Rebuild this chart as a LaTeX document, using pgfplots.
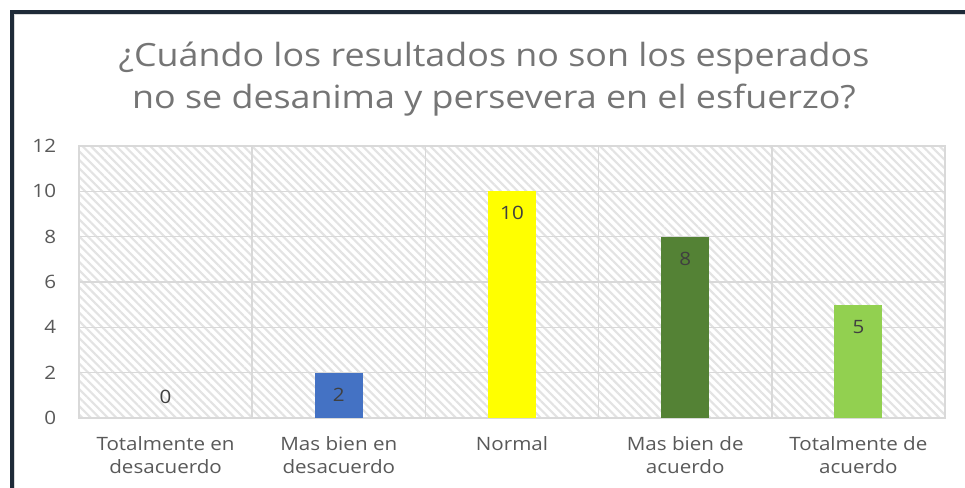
\documentclass[border=0pt]{standalone}
\usepackage{pgfplots}
\pgfplotsset{compat=1.18}
\usepackage{fontspec}
\setmainfont{Open Sans}[FakeStretch=1.12]
\usetikzlibrary{patterns.meta}
\definecolor{gridc}{HTML}{D9D9D9}
\definecolor{hatchc}{HTML}{E3E3E3}
\definecolor{txtc}{HTML}{595959}
\definecolor{titc}{HTML}{757575}
\definecolor{lblc}{HTML}{404040}
\definecolor{framec}{HTML}{1E2A38}
\definecolor{cblue}{HTML}{4472C4}
\definecolor{cyellow}{HTML}{FFFF00}
\definecolor{cdgreen}{HTML}{548235}
\definecolor{clgreen}{HTML}{92D050}
\begin{document}
\begin{tikzpicture}
\useasboundingbox (0,0) rectangle (723.75pt,366pt);
\clip (0,0) rectangle (723.75pt,366pt);
\fill[white] (0,0) rectangle (723.75pt,366pt);
\draw[gridc, line width=1.5pt] (10.5pt,-10pt) -- (10.5pt,355.5pt) -- (740pt,355.5pt);
\draw[framec, line width=2.6pt] (9pt,-10pt) -- (9pt,357pt) -- (740pt,357pt);
\node[anchor=base, text=titc, font=\fontsize{24pt}{29pt}\selectfont, inner sep=0pt] at (370.5pt,315.75pt) {¿Cuándo los resultados no son los esperados};
\node[anchor=base, text=titc, font=\fontsize{24pt}{29pt}\selectfont, inner sep=0pt] at (370.5pt,284.25pt) {no se desanima y persevera en el esfuerzo?};
\begin{axis}[
  at={(59.25pt,52.5pt)}, anchor=south west,
  scale only axis, width=649.5pt, height=204pt,
  xmin=-0.5, xmax=4.5, ymin=0, ymax=12,
  ytick={0,2,...,12},
  xtick={0,1,2,3,4},
  xticklabels={{Totalmente en\\desacuerdo},{Mas bien en\\desacuerdo},{Normal},{Mas bien de\\acuerdo},{Totalmente de\\acuerdo}},
  minor xtick={-0.5,0.5,...,4.5},
  xminorgrids, ymajorgrids,
  grid style={gridc, line width=1.2pt},
  minor grid style={gridc, line width=1.2pt},
  axis line style={gridc, line width=1.2pt},
  tick style={draw=none},
  major tick length=0pt, minor tick length=0pt,
  /pgf/number format/assume math mode=true,
  ticklabel style={text=txtc, font=\fontsize{13.8pt}{17.25pt}\selectfont},
  yticklabel style={anchor=east, inner sep=0pt, xshift=-17pt},
  xticklabel style={align=center, anchor=north, inner sep=0pt, yshift=-14pt},
  axis background/.style={pattern={Lines[angle=-45, distance=4.5pt, line width=1.6pt]}, pattern color=hatchc},
  ybar, bar width=36pt,
  nodes near coords,
  every node near coord/.append style={text=lblc, font=\fontsize{13.8pt}{15pt}\selectfont, anchor=center, yshift=-16.5pt},
  clip=false,
]
\addplot[draw=none, fill=white, bar shift=0pt, every node near coord/.append style={yshift=32pt}] coordinates {(0,0)};
\addplot[draw=none, fill=cblue, bar shift=0pt] coordinates {(1,2)};
\addplot[draw=none, fill=cyellow, bar shift=0pt] coordinates {(2,10)};
\addplot[draw=none, fill=cdgreen, bar shift=0pt] coordinates {(3,8)};
\addplot[draw=none, fill=clgreen, bar shift=0pt] coordinates {(4,5)};
\end{axis}
\end{tikzpicture}
\end{document}
